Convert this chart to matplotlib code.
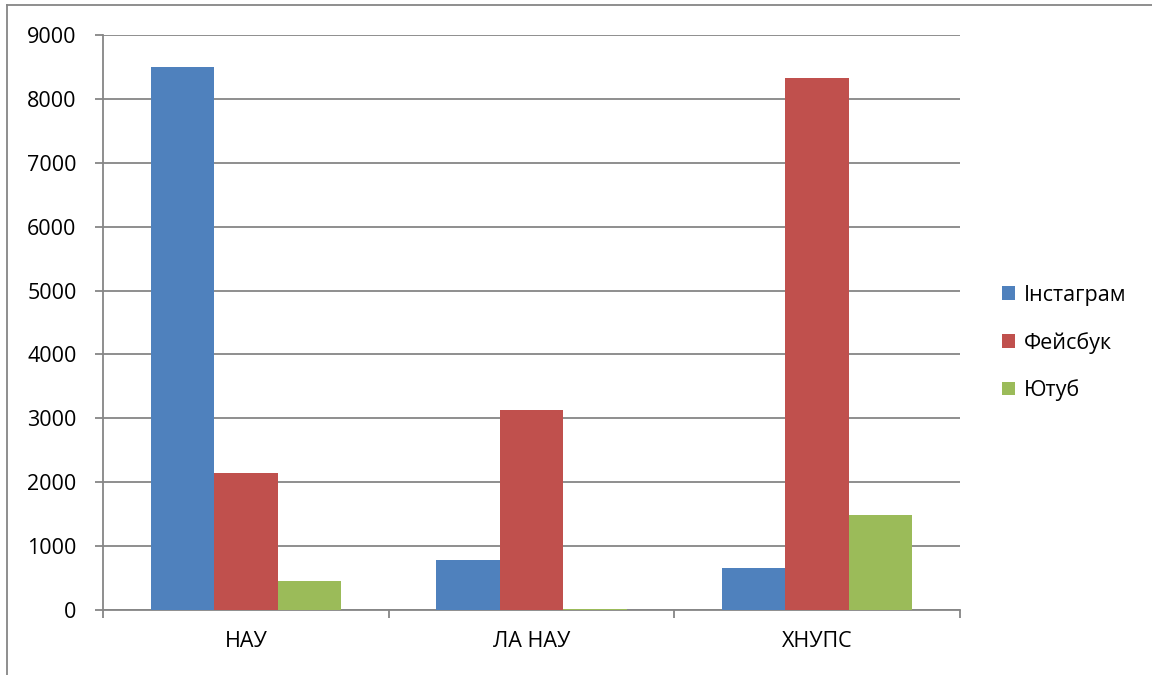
import numpy as np
import matplotlib
matplotlib.use("Agg")
import matplotlib.pyplot as plt
from matplotlib.lines import Line2D

plt.rcParams['font.family'] = ['Open Sans', 'DejaVu Sans']

categories = ['НАУ', 'ЛА НАУ', 'ХНУПС']
series_names = ['Інстаграм', 'Фейсбук', 'Ютуб']
instagram = [8500, 780, 650]
facebook = [2150, 3130, 8320]
youtube = [450, 15, 1490]
colors = ['#4F81BD', '#C0504D', '#9BBB59']

W, H = 1152, 675
fig = plt.figure(figsize=(W / 100, H / 100), dpi=100)
# plot area in pixel coords: x 103..960, y 35..610
ax = fig.add_axes([103 / W, 1 - 610 / H, (960 - 103) / W, (610 - 35) / H])

grey = '#868686'
x = np.arange(len(categories))
bw = 1 / 4.5
for i, (vals, name) in enumerate(zip([instagram, facebook, youtube], series_names)):
    ax.bar(x + (i - 1) * bw, vals, width=bw, color=colors[i], label=name, zorder=3)

ax.set_xlim(-0.5, len(categories) - 0.5)
ax.set_ylim(0, 9000)
ax.set_yticks(np.arange(0, 9001, 1000))
ax.yaxis.grid(True, color=grey, linewidth=1.3, zorder=0)

ax.set_xticks(np.arange(-0.5, len(categories), 1))
ax.set_xticklabels([])
ax.set_xticks(x, minor=True)
ax.set_xticklabels(categories, minor=True)
ax.tick_params(axis='x', which='minor', length=0, pad=15, labelsize=15.5)
ax.tick_params(axis='x', which='major', length=6, width=1.3, color=grey)
ax.tick_params(axis='y', length=6, width=1.3, color=grey, pad=13, labelsize=15.5)

for s in ['top', 'right']:
    ax.spines[s].set_visible(False)
for s in ['left', 'bottom']:
    ax.spines[s].set_color(grey)
    ax.spines[s].set_linewidth(1.3)

leg = fig.legend(loc='center left', bbox_to_anchor=(987 / W, 1 - 343 / H),
                 frameon=False, fontsize=15.5, handlelength=0.6, handleheight=0.6,
                 handletextpad=0.4, labelspacing=1.2, borderpad=0.2)

# outer chart frame (only top and left edges visible)
fig.add_artist(Line2D([7 / W, 1], [1 - 5 / H, 1 - 5 / H], color=grey, linewidth=1.3))
fig.add_artist(Line2D([7 / W, 7 / W], [1 - 5 / H, 0], color=grey, linewidth=1.3))

fig.savefig('out.png', dpi=100, facecolor='white')
